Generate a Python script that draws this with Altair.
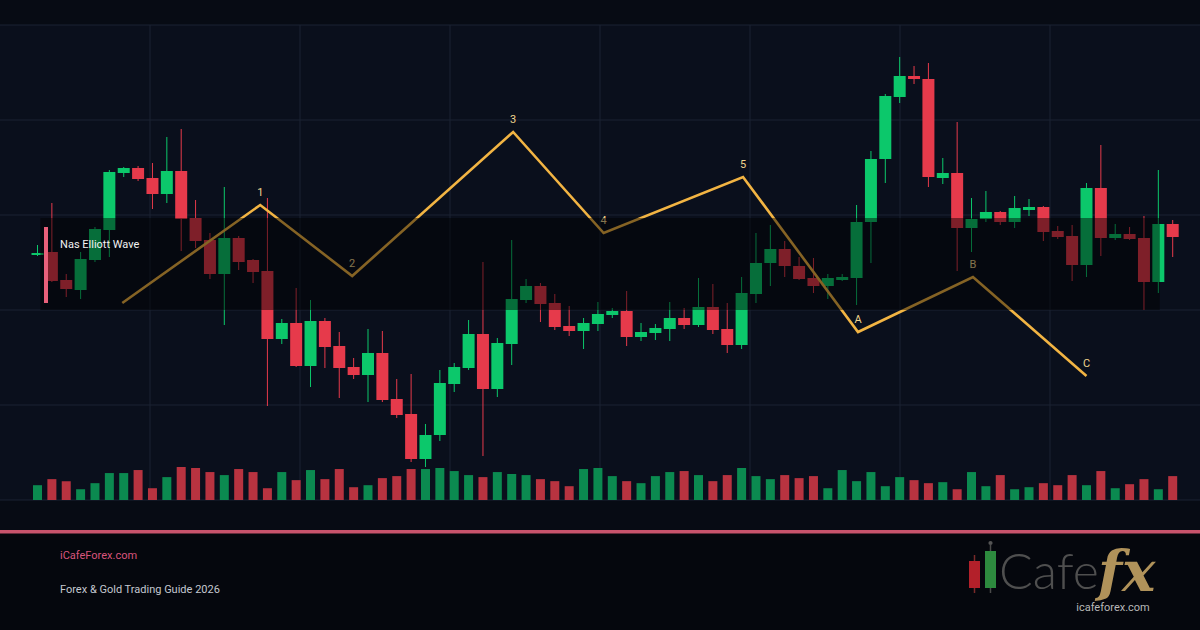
import altair as alt
import pandas as pd

# ---------------- data ----------------
opens = [15490, 15496, 15440, 15420, 15480, 15540, 15654, 15664, 15644, 15612,
         15658, 15564, 15520, 15452, 15524, 15480, 15458, 15322, 15354, 15268,
         15358, 15308, 15266, 15250, 15294, 15202, 15172, 15082, 15130, 15232,
         15264, 15332, 15222, 15312, 15400, 15428, 15394, 15348, 15338, 15352,
         15370, 15378, 15326, 15334, 15342, 15364, 15350, 15386, 15342, 15310,
         15412, 15474, 15502, 15468, 15444, 15428, 15440, 15444, 15556, 15682,
         15806, 15848, 15842, 15644, 15654, 15544, 15562, 15576, 15556, 15580,
         15586, 15538, 15528, 15470, 15624, 15524, 15532, 15524, 15436, 15552]
closes = [15494, 15438, 15422, 15482, 15542, 15656, 15664, 15642, 15612, 15658,
          15562, 15518, 15452, 15524, 15476, 15456, 15322, 15354, 15268, 15358,
          15306, 15264, 15250, 15294, 15200, 15170, 15082, 15130, 15234, 15266,
          15332, 15222, 15314, 15402, 15428, 15392, 15346, 15338, 15354, 15372,
          15378, 15326, 15336, 15344, 15364, 15350, 15386, 15340, 15310, 15414,
          15474, 15502, 15468, 15442, 15428, 15444, 15446, 15556, 15682, 15808,
          15848, 15842, 15646, 15654, 15544, 15562, 15576, 15556, 15584, 15586,
          15536, 15526, 15470, 15624, 15524, 15532, 15522, 15436, 15552, 15526]
highs = [15510, 15594, 15452, 15496, 15546, 15660, 15666, 15668, 15674, 15726,
         15742, 15600, 15534, 15626, 15528, 15482, 15604, 15362, 15424, 15400,
         15364, 15336, 15284, 15342, 15338, 15242, 15252, 15152, 15260, 15274,
         15360, 15476, 15324, 15520, 15442, 15434, 15412, 15388, 15364, 15396,
         15384, 15418, 15354, 15352, 15396, 15384, 15444, 15432, 15394, 15446,
         15534, 15550, 15518, 15486, 15484, 15452, 15452, 15590, 15698, 15812,
         15886, 15868, 15874, 15684, 15756, 15604, 15618, 15578, 15608, 15602,
         15588, 15548, 15550, 15634, 15710, 15552, 15546, 15568, 15660, 15560]
lows = [15488, 15436, 15406, 15402, 15476, 15486, 15646, 15638, 15582, 15594,
        15498, 15504, 15442, 15350, 15460, 15434, 15188, 15312, 15266, 15226,
        15264, 15204, 15242, 15196, 15196, 15164, 15076, 15066, 15118, 15216,
        15260, 15088, 15206, 15270, 15394, 15356, 15340, 15328, 15302, 15338,
        15364, 15308, 15318, 15320, 15318, 15342, 15346, 15332, 15294, 15302,
        15394, 15428, 15446, 15440, 15414, 15402, 15438, 15390, 15474, 15634,
        15794, 15832, 15626, 15632, 15458, 15496, 15556, 15550, 15544, 15568,
        15518, 15522, 15438, 15446, 15488, 15520, 15520, 15380, 15414, 15486]
volumes = [44, 62, 56, 32, 50, 80, 80, 89, 35, 68,
           98, 95, 83, 74, 92, 83, 35, 83, 59, 89,
           62, 92, 38, 44, 65, 71, 92, 92, 95, 86,
           74, 68, 83, 77, 74, 62, 56, 41, 92, 95,
           71, 56, 50, 71, 83, 86, 74, 56, 74, 95,
           71, 62, 74, 65, 71, 35, 89, 56, 83, 41,
           68, 59, 50, 53, 32, 83, 41, 74, 32, 38,
           50, 44, 74, 44, 86, 35, 47, 62, 32, 71]

wave_idx = [6.9, 16.5, 22.9, 34.1, 40.4, 50.1, 58.1, 66.1, 74.0]
wave_price = [15394, 15590, 15448, 15736, 15534, 15646, 15336, 15446, 15248]
wave_labels = ["", "1", "2", "3", "4", "5", "A", "B", "C"]

price_grid = [15000, 15190, 15380, 15570, 15760, 15950]
box_x = [1.2, 79.1]
box_price = [15380, 15564]
tag_x = [1.45, 1.73]
tag_price = [15394, 15546]
title_pos = [2.57, 15510]
title_text = "Nas Elliott Wave"

# ---------------- scales ----------------
X_DOMAIN = [-1.61, 81.9]
Y_DOMAIN = [15000, 15950]
x_grid = [X_DOMAIN[0] + k * (X_DOMAIN[1] - X_DOMAIN[0]) / 8 for k in range(1, 8)]

xs = alt.Scale(domain=X_DOMAIN, nice=False, zero=False, padding=0)
ys = alt.Scale(domain=Y_DOMAIN, nice=False, zero=False, padding=0)
vs = alt.Scale(domain=[0, 1411], nice=False, zero=True, padding=0)

G, R = "#0cc86b", "#e63a4b"
VG, VR = "#0b8a50", "#b83340"

df = pd.DataFrame({
    "i": list(range(1, len(opens) + 1)),
    "open": opens, "close": closes, "high": highs, "low": lows, "volume": volumes,
})
up = "datum.close >= datum.open"

W, H, TOP = 1200, 475, 25
def py(page_y):
    return page_y - TOP

one = pd.DataFrame({"a": [0]})

hgrid = alt.Chart(pd.DataFrame({"p": price_grid})).mark_rule(color="#1b2233", strokeWidth=1).encode(
    y=alt.Y("p:Q", scale=ys, axis=None))
vgrid = alt.Chart(pd.DataFrame({"g": x_grid})).mark_rule(color="#1b2233", strokeWidth=1).encode(
    x=alt.X("g:Q", scale=xs, axis=None))

vol = alt.Chart(df).mark_bar(size=9).encode(
    x=alt.X("i:Q", scale=xs, axis=None),
    y=alt.Y("volume:Q", scale=vs, axis=None),
    color=alt.condition(up, alt.value(VG), alt.value(VR)),
)

wick = alt.Chart(df).mark_rule(strokeWidth=1).encode(
    x=alt.X("i:Q", scale=xs, axis=None),
    y=alt.Y("low:Q", scale=ys, axis=None),
    y2="high:Q",
    color=alt.condition(up, alt.value(G), alt.value(R)),
)
body = alt.Chart(df).mark_bar(size=12).encode(
    x=alt.X("i:Q", scale=xs, axis=None),
    y=alt.Y("open:Q", scale=ys, axis=None),
    y2="close:Q",
    color=alt.condition(up, alt.value(G), alt.value(R)),
)

wdf = pd.DataFrame({"i": wave_idx, "p": wave_price, "lab": wave_labels, "o": list(range(len(wave_idx)))})
wave = alt.Chart(wdf).mark_line(color="#f2b443", strokeWidth=2.6, strokeJoin="miter").encode(
    x=alt.X("i:Q", scale=xs, axis=None),
    y=alt.Y("p:Q", scale=ys, axis=None),
    order="o:Q",
)
wlab = alt.Chart(wdf[wdf["lab"] != ""]).mark_text(
    dy=-12, fontSize=11, font="Roboto", color="#f0d48e", baseline="middle", align="center"
).encode(
    x=alt.X("i:Q", scale=xs, axis=None),
    y=alt.Y("p:Q", scale=ys, axis=None),
    text="lab:N",
)

box = alt.Chart(pd.DataFrame({"x": [box_x[0]], "x2": [box_x[1]], "y": [box_price[0]], "y2": [box_price[1]]})).mark_rect(
    color="#000000", opacity=0.45).encode(
    x=alt.X("x:Q", scale=xs, axis=None), x2="x2:Q",
    y=alt.Y("y:Q", scale=ys, axis=None), y2="y2:Q")

tag = alt.Chart(pd.DataFrame({"x": [tag_x[0]], "x2": [tag_x[1]], "y": [tag_price[0]], "y2": [tag_price[1]]})).mark_rect(
    color="#e8607a").encode(
    x=alt.X("x:Q", scale=xs, axis=None), x2="x2:Q",
    y=alt.Y("y:Q", scale=ys, axis=None), y2="y2:Q")

title = alt.Chart(pd.DataFrame({"x": [title_pos[0]], "y": [title_pos[1]], "t": [title_text]})).mark_text(
    align="left", baseline="middle", fontSize=11, font="Roboto", color="#f2f2f2").encode(
    x=alt.X("x:Q", scale=xs, axis=None),
    y=alt.Y("y:Q", scale=ys, axis=None),
    text="t:N")

# ---------------- footer ----------------
footer_bg = alt.Chart(one).mark_rect(color="#05070d").encode(
    x=alt.value(0), x2=alt.value(W), y=alt.value(py(533)), y2=alt.value(py(630)))
pink_line = alt.Chart(one).mark_rect(color="#c9546c").encode(
    x=alt.value(0), x2=alt.value(W), y=alt.value(py(530)), y2=alt.value(py(533.5)))
site = alt.Chart(one).mark_text(text="iCafeForex.com", align="left", baseline="middle",
                                fontSize=11, font="Roboto", color="#d9557c").encode(
    x=alt.value(60), y=alt.value(py(556)))
guide = alt.Chart(one).mark_text(text="Forex & Gold Trading Guide 2026", align="left", baseline="middle",
                                 fontSize=11, font="Roboto", color="#c4c8d0").encode(
    x=alt.value(60), y=alt.value(py(590)))

logo_red_wick = alt.Chart(one).mark_rule(color="#7a2a2a", strokeWidth=1.5).encode(
    x=alt.value(974.5), y=alt.value(py(555)), y2=alt.value(py(593)))
logo_red = alt.Chart(one).mark_rect(color="#b3202a").encode(
    x=alt.value(969), x2=alt.value(980), y=alt.value(py(561)), y2=alt.value(py(588)))
logo_green_wick = alt.Chart(one).mark_rule(color="#4a4a4a", strokeWidth=1.5).encode(
    x=alt.value(990.5), y=alt.value(py(545)), y2=alt.value(py(593)))
logo_green = alt.Chart(one).mark_rect(color="#2d8a3e").encode(
    x=alt.value(985), x2=alt.value(996), y=alt.value(py(551)), y2=alt.value(py(588)))
logo_dot = alt.Chart(one).mark_point(filled=True, color="#555555", size=18, opacity=1).encode(
    x=alt.value(990.5), y=alt.value(py(543)))
logo_cafe = alt.Chart(one).mark_text(text="Cafe", align="left", baseline="alphabetic",
                                     fontSize=50, font="Lato", fontWeight=300, color="#4f4f4f").encode(
    x=alt.value(999), y=alt.value(py(589)))
logo_fx = alt.Chart(one).mark_text(text="fx", align="left", baseline="alphabetic",
                                   fontSize=56, font="DejaVu Serif", fontStyle="italic", fontWeight="bold",
                                   color="#b0925a").encode(
    x=alt.value(1098), y=alt.value(py(591)))
logo_url = alt.Chart(one).mark_text(text="icafeforex.com", align="center", baseline="middle",
                                    fontSize=11, font="Roboto", color="#b8b8b8").encode(
    x=alt.value(1113), y=alt.value(py(608)))

chart = alt.layer(
    hgrid, vgrid, vol, wick, body, wave, wlab, box, tag, title,
    footer_bg, pink_line, site, guide,
    logo_red_wick, logo_red, logo_green_wick, logo_green, logo_dot, logo_cafe, logo_fx, logo_url,
).resolve_scale(y="independent").properties(
    width=W, height=H,
    padding={"left": 0, "right": 0, "top": TOP, "bottom": 130},
    autosize="none",
    background="#070b14",
).configure_view(stroke=None, fill="#0a0f1c")

chart.save("out.html", embed_options={"renderer": "svg", "actions": False})
